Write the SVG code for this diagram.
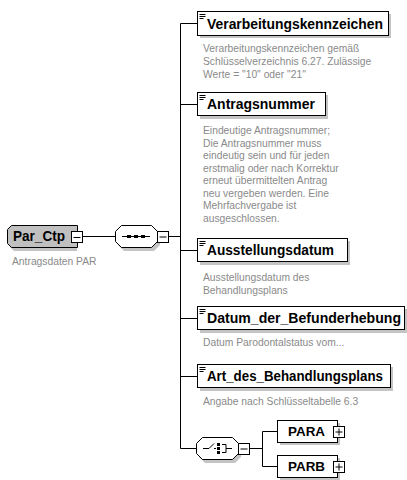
<svg xmlns="http://www.w3.org/2000/svg" width="407" height="480" viewBox="0 0 407 480">
<style>
.box{fill:#fff;stroke:#000;stroke-width:1}
.shadow{fill:#c4c4c4}
.title{font-family:"Liberation Sans",Arial,sans-serif;font-weight:bold;font-size:14px;fill:#000}
.small{font-family:"Liberation Sans",Arial,sans-serif;font-weight:bold;font-size:13px;fill:#000}
.desc{font-family:"Liberation Sans",Arial,sans-serif;font-size:10.3px;fill:#8a8a8a}
.line{stroke:#000;stroke-width:1;fill:none}
.tog{fill:#fff;stroke:#000;stroke-width:1}
</style>
<defs>
<g id="doc"><path d="M1.5 2.5h6M1.5 4.5h6M1.5 6.5h4" stroke="#000" stroke-width="1"/></g>
</defs>
<g id="connectors" class="line">
<path d="M82.5 236.5H115.5"/>
<path d="M168.5 236.5H180.5"/>
<path d="M180.5 23.5V448.5"/>
<path d="M180.5 23.5H197.5M180.5 104.5H197.5M180.5 250.5H197.5M180.5 318.5H197.5M180.5 376.5H197.5M180.5 448.5H196.5"/>
<path d="M249.5 448.5H262.5M262.5 431.5V466.5M262.5 431.5H277.5M262.5 466.5H277.5"/>
</g>
<g id="Par_Ctp">
<path d="M11 229h66v22H14l-4-4z" class="shadow"/>
<path d="M11.5 225.5h66v22h-66l-4-4v-14z" fill="#c0c0c0" stroke="#000"/>
<text x="13" y="241" class="title" textLength="52" lengthAdjust="spacingAndGlyphs">Par_Ctp</text>
<rect x="71.5" y="231.5" width="11" height="11" class="tog"/>
<path d="M73.5 237.5h7" stroke="#000"/>
<text x="12" y="265" class="desc">Antragsdaten PAR</text>
</g>
<g id="sequence">
<path d="M124 229h30l6 6v10l-6 6h-30l-6-6v-10z" class="shadow"/>
<path d="M121.5 225.5h30l6 6v10l-6 6h-30l-6-6v-10z" fill="#fff" stroke="#000"/>
<path d="M122 236.5h28" stroke="#000"/>
<rect x="127" y="235" width="4" height="3"/><rect x="134" y="235" width="4" height="3"/><rect x="141" y="235" width="4" height="3"/>
<rect x="157.5" y="231.5" width="11" height="11" class="tog"/>
<path d="M159.5 237h7" stroke="#000"/>
</g>
<g id="Verarbeitungskennzeichen">
<rect x="200" y="14" width="191" height="24" class="shadow"/>
<rect x="197.5" y="11.5" width="191" height="24" class="box"/>
<use href="#doc" x="198" y="12"/>
<text x="207" y="29" class="title" textLength="176" lengthAdjust="spacingAndGlyphs">Verarbeitungskennzeichen</text>
<text class="desc"><tspan x="203" y="52">Verarbeitungskennzeichen gemäß</tspan><tspan x="203" y="65">Schlüsselverzeichnis 6.27. Zulässige</tspan><tspan x="203" y="78">Werte = "10" oder "21"</tspan></text>
</g>
<g id="Antragsnummer">
<rect x="200" y="95" width="128" height="24" class="shadow"/>
<rect x="197.5" y="92.5" width="128" height="23" class="box"/>
<use href="#doc" x="198" y="93"/>
<text x="207" y="109" class="title" textLength="108" lengthAdjust="spacingAndGlyphs">Antragsnummer</text>
<text class="desc"><tspan x="203" y="134">Eindeutige Antragsnummer;</tspan><tspan x="203" y="146.5">Die Antragsnummer muss</tspan><tspan x="203" y="159">eindeutig sein und für jeden</tspan><tspan x="203" y="171.5">erstmalig oder nach Korrektur</tspan><tspan x="203" y="184">erneut übermittelten Antrag</tspan><tspan x="203" y="196.5">neu vergeben werden. Eine</tspan><tspan x="203" y="209">Mehrfachvergabe ist</tspan><tspan x="203" y="221.5">ausgeschlossen.</tspan></text>
</g>
<g id="Ausstellungsdatum">
<rect x="200" y="241" width="150" height="24" class="shadow"/>
<rect x="197.5" y="238.5" width="150" height="23" class="box"/>
<use href="#doc" x="198" y="239"/>
<text x="207" y="255" class="title" textLength="127" lengthAdjust="spacingAndGlyphs">Ausstellungsdatum</text>
<text class="desc"><tspan x="203" y="281">Ausstellungsdatum des</tspan><tspan x="203" y="294">Behandlungsplans</tspan></text>
</g>
<g id="Datum_der_Befunderhebung">
<rect x="200" y="309" width="208" height="24" class="shadow"/>
<rect x="197.5" y="306.5" width="207" height="23" class="box"/>
<use href="#doc" x="198" y="307"/>
<text x="207" y="323" class="title" textLength="194" lengthAdjust="spacingAndGlyphs">Datum_der_Befunderhebung</text>
<text x="203" y="346" class="desc">Datum Parodontalstatus vom...</text>
</g>
<g id="Art_des_Behandlungsplans">
<rect x="200" y="367" width="193" height="24" class="shadow"/>
<rect x="197.5" y="364.5" width="193" height="23" class="box"/>
<use href="#doc" x="198" y="365"/>
<text x="207" y="381" class="title" textLength="176" lengthAdjust="spacingAndGlyphs">Art_des_Behandlungsplans</text>
<text x="203" y="405" class="desc">Angabe nach Schlüsseltabelle 6.3</text>
</g>
<g id="choice">
<path d="M205 441h30l6 6v10l-6 6h-30l-6-6v-10z" class="shadow"/>
<path d="M202.5 437.5h30l6 6v10l-6 6h-30l-6-6v-10z" fill="#fff" stroke="#000"/>
<path d="M203 448.5h6l5-5M214 448.5h2M222 444.5h4v8h-4M226 448.5h6" stroke="#000" fill="none"/>
<rect x="217" y="443" width="3" height="3"/><rect x="217" y="447" width="3" height="3"/><rect x="217" y="451" width="3" height="3"/>
<rect x="238.5" y="443.5" width="11" height="11" class="tog"/>
<path d="M240.5 449h7" stroke="#000"/>
</g>
<g id="PARA">
<rect x="280" y="423" width="60" height="22" class="shadow"/>
<rect x="277.5" y="420.5" width="60" height="22" class="box"/>
<text x="288" y="436" class="small" textLength="37" lengthAdjust="spacingAndGlyphs">PARA</text>
<rect x="333.5" y="426.5" width="11" height="11" class="tog"/>
<path d="M335.5 432h7M339 428.5v7" stroke="#000"/>
</g>
<g id="PARB">
<rect x="280" y="458" width="60" height="22" class="shadow"/>
<rect x="277.5" y="455.5" width="60" height="22" class="box"/>
<text x="288" y="471" class="small" textLength="37" lengthAdjust="spacingAndGlyphs">PARB</text>
<rect x="333.5" y="461.5" width="11" height="11" class="tog"/>
<path d="M335.5 467h7M339 463.5v7" stroke="#000"/>
</g>
</svg>
